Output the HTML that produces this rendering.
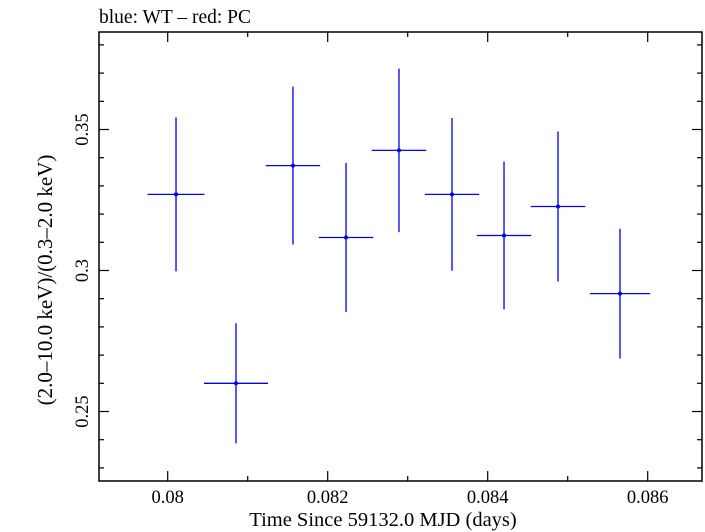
<!DOCTYPE html>
<html><head><meta charset="utf-8"><style>
html,body{margin:0;padding:0;background:#fff;}
svg{display:block;font-family:"Liberation Serif",serif;}
</style></head><body>
<svg id="chart" width="705" height="532" viewBox="0 0 705 532" xmlns="http://www.w3.org/2000/svg">
<text x="99" y="23" font-size="19.5">blue: WT – red: PC</text>
<g id="axes"></g>
<g id="marks"></g>
<text x="383" y="526" font-size="20.5" text-anchor="middle">Time Since 59132.0 MJD (days)</text>
<text transform="translate(52,280) rotate(-90)" font-size="21" text-anchor="middle">(2.0–10.0 keV)/(0.3–2.0 keV)</text>
</svg>
<script>
const xTimes=[0.080104,0.080854,0.081566,0.082229,0.082891,0.083554,0.084204,0.084879,0.085654];
const xHalfWidths=[0.000356,0.0004,0.00034,0.00034,0.00034,0.00034,0.00034,0.00034,0.000375];
const yRatios=[0.327,0.260,0.3372,0.3117,0.3426,0.327,0.3124,0.3227,0.2918];
const yErrors=[0.0273,0.0213,0.0280,0.0264,0.0290,0.0271,0.0262,0.0266,0.0230];
const xTickLabels=["0.08","0.082","0.084","0.086"];
const yTickLabels=["0.25","0.3","0.35"];
const L=99,R=702,T=32,B=481;
const xS=v=>167.7+(v-0.08)*80000;
const yS=v=>270.5-(v-0.3)*2820;
const NS="http://www.w3.org/2000/svg";
const axes=document.getElementById('axes'),marks=document.getElementById('marks');
function ln(p,x1,y1,x2,y2,c,w){const l=document.createElementNS(NS,'line');l.setAttribute('x1',x1);l.setAttribute('y1',y1);l.setAttribute('x2',x2);l.setAttribute('y2',y2);l.setAttribute('stroke',c);l.setAttribute('stroke-width',w);p.appendChild(l);return l;}
const fr=document.createElementNS(NS,'rect');
fr.setAttribute('x',L);fr.setAttribute('y',T);fr.setAttribute('width',R-L);fr.setAttribute('height',B-T);
fr.setAttribute('fill','none');fr.setAttribute('stroke','#000');fr.setAttribute('stroke-width','1.5');


axes.appendChild(fr);
for(let k=0;k<=10;k++){const v=0.079+k*0.001;const x=xS(v);if(x<L||x>R)continue;const major=k%2===1;
const t=ln(axes,x,B,x,B-(major?10:5),'#000',1.2);


const u=ln(axes,x,T,x,T+(major?10:5),'#000',1.2);

}
xTickLabels.forEach(s=>{const t=document.createElementNS(NS,'text');t.setAttribute('x',xS(parseFloat(s)));t.setAttribute('y',503);t.setAttribute('font-size','18.5');t.setAttribute('text-anchor','middle');t.textContent=s;


axes.appendChild(t);});
for(let k=0;k<=16;k++){const v=0.22+k*0.01;const y=yS(v);if(y<T||y>B)continue;const major=(k%5===3);
const a=ln(axes,L,y,L+(major?10:5),y,'#000',1.2);


const b=ln(axes,R,y,R-(major?10:5),y,'#000',1.2);

}
yTickLabels.forEach(s=>{const t=document.createElementNS(NS,'text');const y=yS(parseFloat(s));t.setAttribute('transform','translate(88,'+y+') rotate(-90)');t.setAttribute('font-size','18.5');t.setAttribute('text-anchor','middle');t.textContent=s;


axes.appendChild(t);});
xTimes.forEach((xv,i)=>{const g=document.createElementNS(NS,'g');


const x=xS(xv),y=yS(yRatios[i]);
ln(g,xS(xv-xHalfWidths[i]),y,xS(xv+xHalfWidths[i]),y,'#0000ee',1.3);
ln(g,x,yS(yRatios[i]+yErrors[i]),x,yS(yRatios[i]-yErrors[i]),'#0000ee',1.3);
const c=document.createElementNS(NS,'circle');c.setAttribute('cx',x);c.setAttribute('cy',y);c.setAttribute('r',2);c.setAttribute('fill','#0000ee');g.appendChild(c);
marks.appendChild(g);});
</script>
</body></html>
